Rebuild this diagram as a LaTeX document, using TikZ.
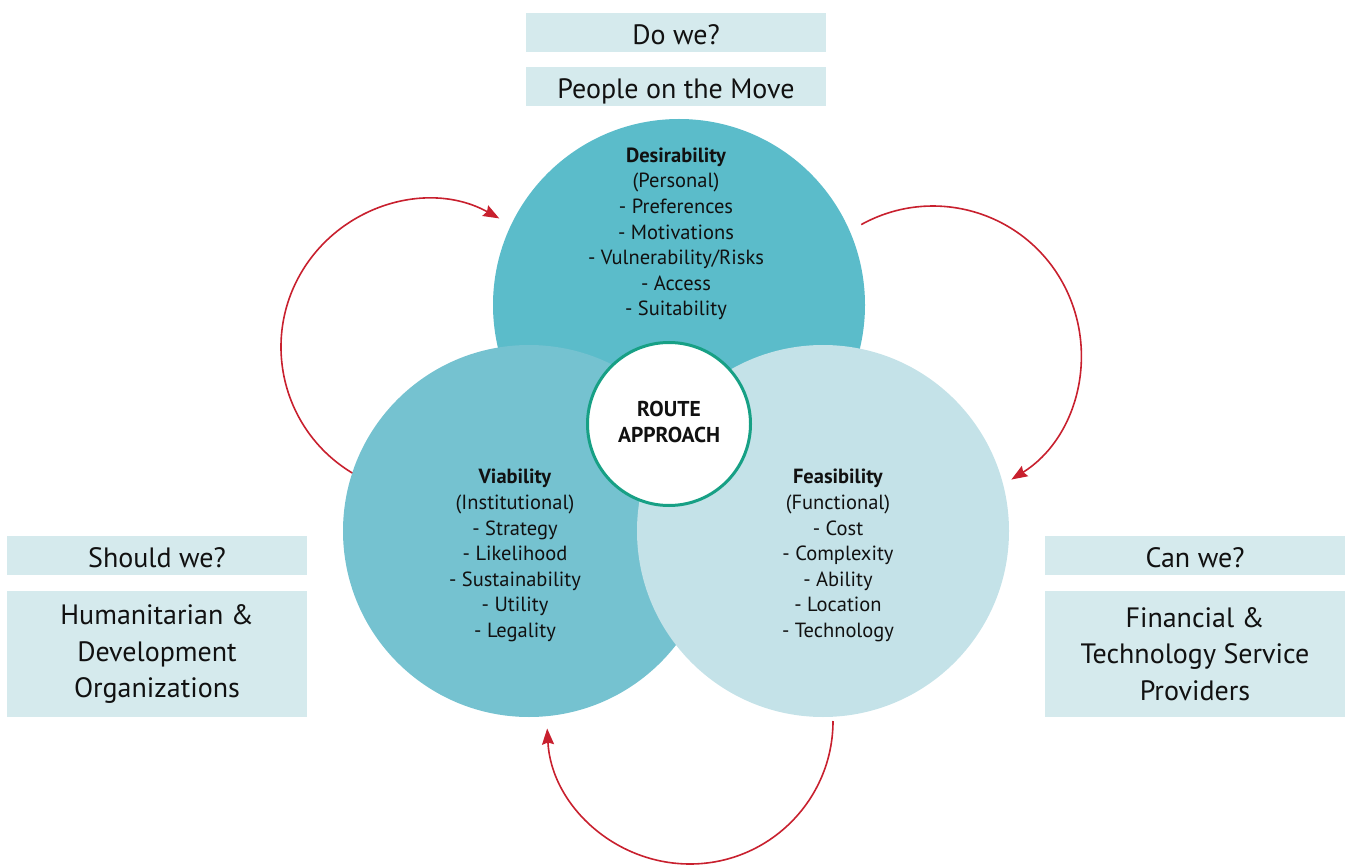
\documentclass[tikz,border=0pt]{standalone}
\usepackage{fontspec}
\setmainfont{PT Sans}
\usetikzlibrary{arrows.meta}
\definecolor{desc}{HTML}{5BBCCA}
\definecolor{viac}{HTML}{75C2D0}
\definecolor{feac}{HTML}{C4E2E8}
\definecolor{boxc}{HTML}{D5EAED}
\definecolor{ringc}{HTML}{17A085}
\definecolor{arrc}{HTML}{C8202E}
\definecolor{txtc}{HTML}{111111}
\begin{document}
\begin{tikzpicture}[x=1pt,y=-1pt,
  bigcirc/.style={circle,inner sep=0pt,minimum size=372pt},
  circtext/.style={align=center,inner sep=0pt,text=txtc,font=\fontsize{20.5}{25.6}\selectfont},
  qbox/.style={rectangle,fill=boxc,inner sep=0pt,minimum width=300pt,minimum height=39pt,text height=24pt,text depth=0pt,text=txtc,font=\fontsize{28}{36}\selectfont},
  whobox/.style={rectangle,fill=boxc,inner sep=0pt,minimum width=300pt,minimum height=126pt,align=center,text=txtc,font=\fontsize{28}{36.5}\selectfont},
  cyc/.style={draw=arrc,line width=1.6pt,-{Stealth[length=16pt,width=12pt,inset=2pt]}}]
\useasboundingbox (0,0) rectangle (1346,866);
% circles
\node[bigcirc,fill=desc] (des) at (679,305) {};
\node[bigcirc,fill=viac] (via) at (529,531) {};
\node[bigcirc,fill=feac] (fea) at (823,531) {};
\node[circle,fill=white,draw=ringc,line width=3pt,minimum size=163pt,inner sep=0pt] (route) at (669,424) {};
\node[align=center,text=txtc,font=\bfseries\fontsize{21.5}{26}\selectfont] (routet) at (669,421.5) {ROUTE\\APPROACH};
% circle texts
\node[circtext] (dest) at (676,234) {\textbf{Desirability}\\(Personal)\\- Preferences\\- Motivations\\- Vulnerability/Risks\\- Access\\- Suitability};
\node[circtext] (viat) at (515,555.5) {\textbf{Viability}\\(Institutional)\\- Strategy\\- Likelihood\\- Sustainability\\- Utility\\- Legality};
\node[circtext] (feat) at (838,555.5) {\textbf{Feasibility}\\(Functional)\\- Cost\\- Complexity\\- Ability\\- Location\\- Technology};
% boxes
\node[qbox] (dowe) at (676,32.5) {Do we?};
\node[qbox] (people) at (676,86.5) {People on the Move};
\node[qbox] (should) at (157,555.5) {Should we?};
\node[whobox] (human) at (157,654) {Humanitarian \&\\Development\\Organizations};
\node[qbox] (can) at (1195,555.5) {Can we?};
\node[whobox] (fin) at (1195,654) {Financial \&\\Technology Service\\Providers};
% cycle arrows
\coordinate (aL) at (352.3,473);
\coordinate (aR) at (861.2,224.6);
\coordinate (aB) at (833,721);
\draw[cyc] (aL) arc[start angle=239,end angle=61,radius=147pt];
\draw[cyc] (aR) arc[start angle=119,end angle=-58,radius=148pt];
\draw[cyc] (aB) arc[start angle=0,end angle=-177,radius=143pt];
\end{tikzpicture}
\end{document}
